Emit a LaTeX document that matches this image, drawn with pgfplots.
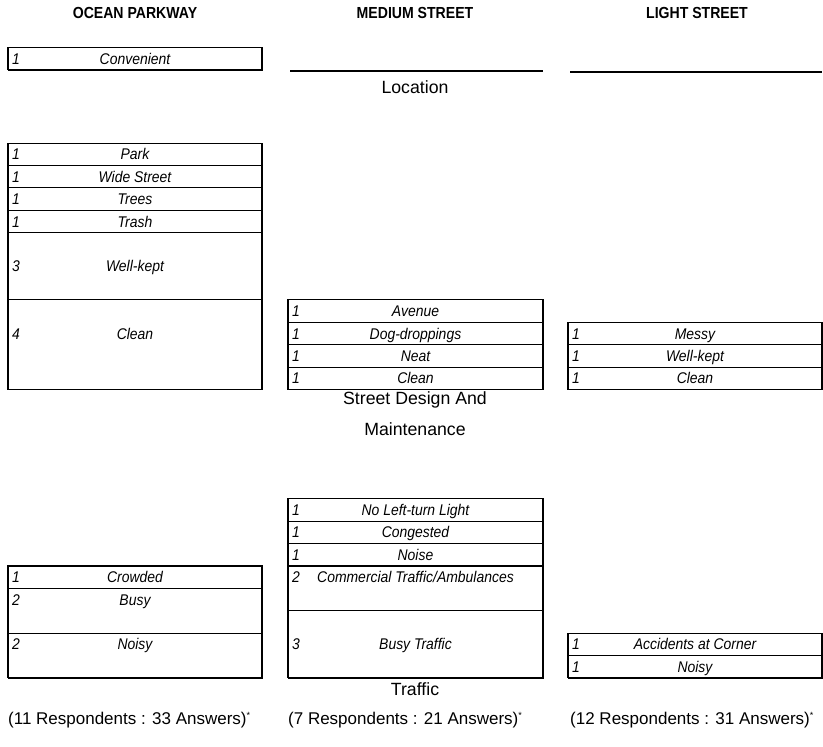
\documentclass[border=0pt]{standalone}
\usepackage{fontspec}
\setmainfont{Liberation Sans}
\newfontfamily\narrowfont{Liberation Sans}[FakeStretch=0.9]
\newfontfamily\headfont{Liberation Sans}[FakeStretch=0.88]
\usepackage{pgfplots}
\pgfplotsset{compat=1.18}

\tikzset{
    answer box/.style={draw=black, fill=white, line width=1.1pt},
    box num/.style={anchor=base west, inner sep=0pt, font=\narrowfont\fontsize{15.5}{15.5}\selectfont\itshape},
    box label/.style={anchor=base, inner sep=0pt, font=\narrowfont\fontsize{15.5}{15.5}\selectfont\itshape},
    section/.style={font=\fontsize{17.7}{17.7}\selectfont},
    header/.style={font=\headfont\fontsize{16}{16}\selectfont\bfseries},
    footer/.style={anchor=west, inner sep=0pt, font=\fontsize{17}{17}\selectfont},
}

% one answer = 22.4 px of height
\newcommand\unitpx{22.4}
% #1 left, #2 right, #3 baseline, #4 answers stacked below, #5 count, #6 label
\newcommand\answerbox[6]{%
  \pgfmathsetmacro\ybot{#3-#4*\unitpx}%
  \pgfmathsetmacro\ytop{#3-(#4+#5)*\unitpx}%
  \pgfmathsetmacro\ytxt{\ytop+(ceil(#5/2)-0.5)*\unitpx+5.5}%
  \pgfmathsetmacro\xmid{(#1+#2)/2}%
  \pgfmathsetmacro\xnum{#1+4}%
  \edef\doplot{%
    \noexpand\addplot[answer box] coordinates {(#1,\ybot) (#2,\ybot) (#2,\ytop) (#1,\ytop) (#1,\ybot)};
    \noexpand\node[box num] at (axis cs:\xnum,\ytxt) {#5};
    \noexpand\node[box label] at (axis cs:\xmid,\ytxt) {#6};}%
  \doplot}

\begin{document}
\begin{tikzpicture}
\begin{axis}[
    scale only axis,
    width=823pt, height=747pt,
    xmin=0, xmax=823, ymin=0, ymax=747,
    y dir=reverse,
    hide axis,
    clip=false,
]
\path (axis cs:0,0) rectangle (axis cs:823,747);

% column headers
\node[header] at (axis cs:135,13) {OCEAN PARKWAY};
\node[header] at (axis cs:415,13) {MEDIUM STREET};
\node[header] at (axis cs:697,13) {LIGHT STREET};

% Location
\answerbox{8}{262}{70}{0}{1}{Convenient}
\addplot[answer box] coordinates {(290,71) (543,71)};
\addplot[answer box] coordinates {(570,72) (822,72)};
\node[section] at (axis cs:415,87) {Location};

% Street design and maintenance
\answerbox{8}{262}{389.5}{0}{4}{Clean}
\answerbox{8}{262}{389.5}{4}{3}{Well-kept}
\answerbox{8}{262}{389.5}{7}{1}{Trash}
\answerbox{8}{262}{389.5}{8}{1}{Trees}
\answerbox{8}{262}{389.5}{9}{1}{Wide Street}
\answerbox{8}{262}{389.5}{10}{1}{Park}

\answerbox{288}{543}{389.5}{0}{1}{Clean}
\answerbox{288}{543}{389.5}{1}{1}{Neat}
\answerbox{288}{543}{389.5}{2}{1}{Dog-droppings}
\answerbox{288}{543}{389.5}{3}{1}{Avenue}

\answerbox{568}{822}{389.5}{0}{1}{Clean}
\answerbox{568}{822}{389.5}{1}{1}{Well-kept}
\answerbox{568}{822}{389.5}{2}{1}{Messy}
\node[section] at (axis cs:415,400) {Street Design And};
\node[section] at (axis cs:415,429) {Maintenance};

% Traffic
\answerbox{8}{262}{678}{0}{2}{Noisy}
\answerbox{8}{262}{678}{2}{2}{Busy}
\answerbox{8}{262}{678}{4}{1}{Crowded}

\answerbox{288}{543}{678}{0}{3}{Busy Traffic}
\answerbox{288}{543}{678}{3}{2}{Commercial Traffic/Ambulances}
\answerbox{288}{543}{678}{5}{1}{Noise}
\answerbox{288}{543}{678}{6}{1}{Congested}
\answerbox{288}{543}{678}{7}{1}{No Left-turn Light}

\answerbox{568}{822}{678}{0}{1}{Noisy}
\answerbox{568}{822}{678}{1}{1}{Accidents at Corner}
\node[section] at (axis cs:415,689) {Traffic};

% footers
\node[footer] at (axis cs:8,720) {(11 Respondents : 33 Answers)\raisebox{0.35em}{\fontsize{9}{9}\selectfont*}};
\node[footer] at (axis cs:288,720) {(7 Respondents : 21 Answers)\raisebox{0.35em}{\fontsize{9}{9}\selectfont*}};
\node[footer] at (axis cs:570,720) {(12 Respondents : 31 Answers)\raisebox{0.35em}{\fontsize{9}{9}\selectfont*}};
\end{axis}
\end{tikzpicture}
\end{document}
